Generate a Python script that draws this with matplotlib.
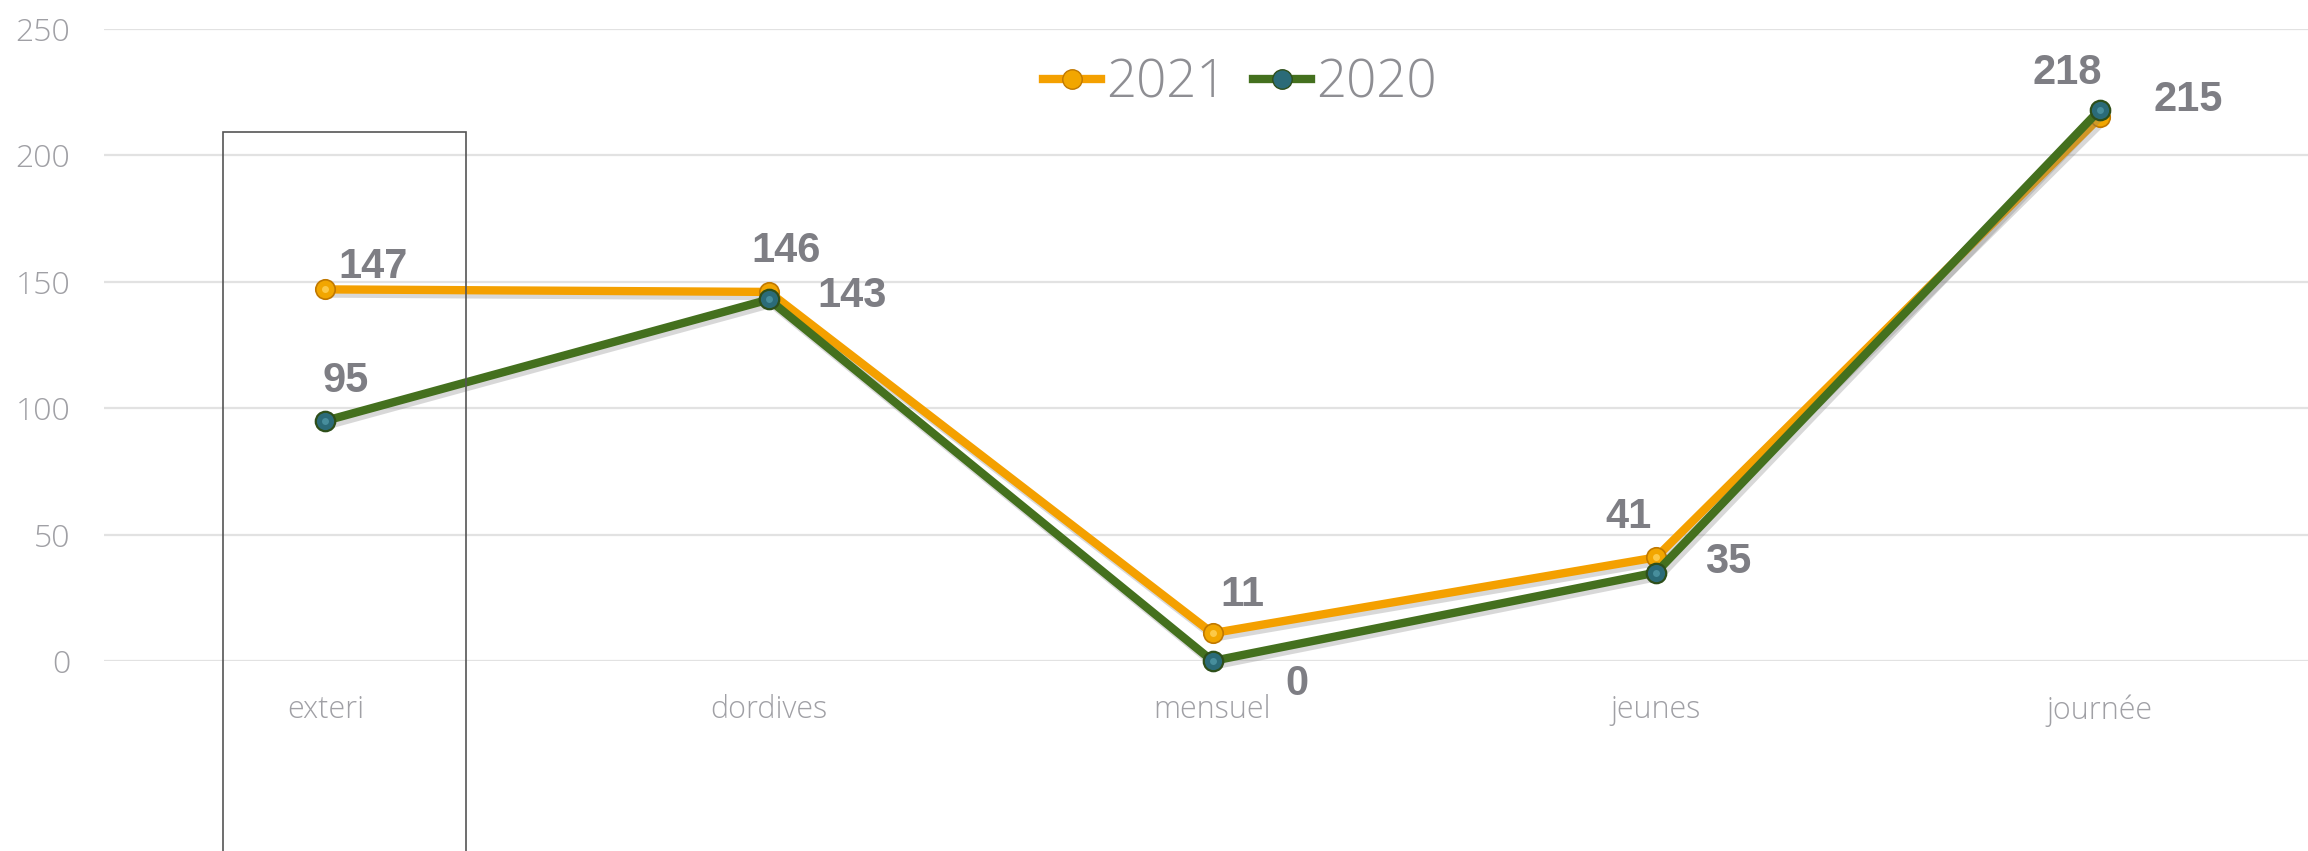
import matplotlib.pyplot as plt
import matplotlib.patheffects as pe
from matplotlib.patches import Rectangle
from matplotlib.lines import Line2D

# data
categories = ["exteri", "dordives", "mensuel", "jeunes", "journée"]
vals_2021 = [147, 146, 11, 41, 215]
vals_2020 = [95, 143, 0, 35, 218]
yticks = [0, 50, 100, 150, 200, 250]

# label offsets (pixels) for each point, picked to match the original placement
off_2021 = [(48, 22), (17, 41), (30, 38), (-28, 40), (88, 17)]
off_2020 = [(20, 40), (83, 3), (84, -23), (72, 11), (-32, 37)]

orange = "#F4A000"
green = "#44701E"
lab_col = "#7E7E84"
tick_col = "#A0A0A5"

W, H = 2308, 851
fig = plt.figure(figsize=(W / 100, H / 100), dpi=100)
ax = fig.add_axes([103.5 / W, (H - 661) / H, 2218 / W, (661 - 29) / H])

x = list(range(len(categories)))

shadow = [pe.SimpleLineShadow(offset=(2, -3), shadow_color="#808080", alpha=0.3), pe.Normal()]

# 2021 first (drawn underneath), 2020 on top
ax.plot(x, vals_2021, color=orange, lw=6, solid_capstyle="round",
        path_effects=shadow, zorder=3, clip_on=False)
ax.plot(x, vals_2021, ls="none", marker="o", ms=14, mfc="#F2A600",
        mec="#C07800", mew=1.2, zorder=4, clip_on=False)
ax.plot(x, vals_2021, ls="none", marker="o", ms=5, mfc="#FFD35A", mec="none",
        zorder=4, clip_on=False, alpha=0.8)

ax.plot(x, vals_2020, color=green, lw=6, solid_capstyle="round",
        path_effects=shadow, zorder=5, clip_on=False)
ax.plot(x, vals_2020, ls="none", marker="o", ms=14, mfc="#2B6B78",
        mec="#2E4F1A", mew=1.6, zorder=6, clip_on=False)
ax.plot(x, vals_2020, ls="none", marker="o", ms=5, mfc="#4F97A6", mec="none",
        zorder=6, clip_on=False, alpha=0.8)

for xi, v, o in zip(x, vals_2021, off_2021):
    ax.annotate(str(v), (xi, v), xytext=o, textcoords="offset pixels",
                ha="center", va="center", fontsize=30, fontweight="bold",
                color=lab_col, family="Liberation Sans", zorder=8)
for xi, v, o in zip(x, vals_2020, off_2020):
    ax.annotate(str(v), (xi, v), xytext=o, textcoords="offset pixels",
                ha="center", va="center", fontsize=30, fontweight="bold",
                color=lab_col, family="Liberation Sans", zorder=8)

ax.set_xlim(-0.5, len(categories) - 0.5)
ax.set_ylim(0, 250)
ax.set_yticks(yticks)
ax.set_xticks(x)
ax.set_xticklabels(categories)
ax.grid(axis="y", color="#E2E2E2", lw=1.6)
ax.set_axisbelow(True)
for s in ax.spines.values():
    s.set_visible(False)
ax.tick_params(axis="y", length=0, pad=24, labelsize=23, labelcolor=tick_col)
ax.tick_params(axis="x", length=0, pad=24, labelsize=22, labelcolor=tick_col)
for t in ax.get_xticklabels() + ax.get_yticklabels():
    t.set_family("Open Sans")
    t.set_fontweight("light")

# legend
h21 = Line2D([], [], color=orange, lw=6, marker="o", ms=14, mfc="#F2A600", mec="#C07800")
h20 = Line2D([], [], color=green, lw=6, marker="o", ms=14, mfc="#2B6B78", mec="#2E4F1A")
leg = fig.legend([h21, h20], ["2021", "2020"], loc="center", ncol=2,
                 bbox_to_anchor=(1240 / W, (H - 84) / H), frameon=False,
                 handlelength=1.1, handletextpad=0.1, columnspacing=0.5,
                 prop={"family": "Open Sans", "size": 38, "weight": "light"})
for t in leg.get_texts():
    t.set_color("#8E8E93")

# highlight box around the first category
fig.patches.append(Rectangle((223 / W, -0.01), (466 - 223) / W, (H - 132) / H + 0.01,
                             transform=fig.transFigure, fill=False,
                             edgecolor="#555555", lw=1.2, zorder=10))

fig.savefig("out.png", dpi=100)
